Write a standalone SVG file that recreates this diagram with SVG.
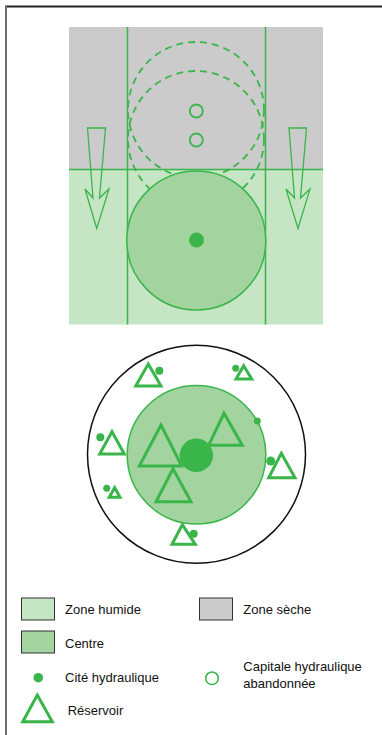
<svg xmlns="http://www.w3.org/2000/svg" width="382" height="735" viewBox="0 0 382 735">
<style>
.g{stroke:#3ab54a;fill:none}
.tri{stroke:#3ab54a;stroke-width:3;fill:none;stroke-linejoin:miter}
.dot{fill:#3ab54a}
.lbl{font-family:"Liberation Sans",Arial,sans-serif;font-size:13px;fill:#111}
.sw{stroke:#333;stroke-width:1}
</style>
<rect width="382" height="735" fill="#fff"/>
<g id="frame">
<line x1="5" y1="6.5" x2="382" y2="6.5" stroke="#222" stroke-width="2"/>
<line x1="6" y1="6" x2="6" y2="735" stroke="#707070" stroke-width="2"/>
</g>
<g id="top-panel">
<rect x="69" y="27" width="254" height="142.5" fill="#cbcbcb"/>
<rect x="69" y="169.5" width="254" height="155" fill="#c6e5c4"/>
<line class="g" x1="69" y1="169.5" x2="323" y2="169.5" stroke-width="1.5"/>
<line class="g" x1="127.5" y1="27" x2="127.5" y2="324.5" stroke-width="1.5"/>
<line class="g" x1="265.5" y1="27" x2="265.5" y2="324.5" stroke-width="1.5"/>
<circle class="g" cx="196" cy="110" r="68" stroke-width="1.8" stroke-dasharray="7 5"/>
<circle class="g" cx="196" cy="139" r="68" stroke-width="1.8" stroke-dasharray="7 5"/>
<circle class="g" cx="196.3" cy="111" r="6.5" stroke-width="1.8"/>
<circle class="g" cx="196.3" cy="140" r="6.5" stroke-width="1.8"/>
<circle cx="196.3" cy="240.5" r="69.5" fill="#a3d49f" stroke="#3ab54a" stroke-width="1.5"/>
<circle class="dot" cx="196.5" cy="240" r="7.5"/>
<polygon class="g" stroke-width="1.3" points="87.5,128 105.5,128 99.5,198 109,189 96.7,228.5 85,189 93,198"/>
<polygon class="g" stroke-width="1.3" points="289,128 306.5,128 300.5,198 310,189 298,228.5 286,189 294.5,198"/>
</g>
<g id="bottom-diagram">
<circle cx="196.5" cy="454.3" r="109" fill="#fff" stroke="#111" stroke-width="1.5"/>
<circle cx="196.5" cy="454.7" r="69.3" fill="#a3d49f" stroke="#3ab54a" stroke-width="1.5"/>
<circle class="dot" cx="196.3" cy="455.3" r="16.7"/>
<polygon class="tri" points="148.3,364 161,386 135.7,386"/>
<circle class="dot" cx="159.3" cy="370.7" r="4"/>
<polygon class="tri" points="243.7,365.7 251.7,379 236,379"/>
<circle class="dot" cx="235.7" cy="368.3" r="3.5"/>
<circle class="dot" cx="257.3" cy="421" r="3.5"/>
<polygon class="tri" points="161,425 181.7,466 139.3,466"/>
<polygon class="tri" points="224,413.3 242.3,445.3 208.7,445.3"/>
<polygon class="tri" points="173,468.7 191,501.7 156,501.7"/>
<polygon class="tri" points="112,431.7 124.3,454 99.7,454"/>
<circle class="dot" cx="100.3" cy="437.3" r="4"/>
<polygon class="tri" points="281.3,453.3 295,477.7 268.7,477.7"/>
<circle class="dot" cx="270.7" cy="461" r="4.5"/>
<polygon class="tri" points="114.7,487.7 120,497.3 109.3,497.3"/>
<circle class="dot" cx="106.7" cy="488.3" r="3.5"/>
<polygon class="tri" points="182.3,524.7 195.3,544.3 172,544.3"/>
<circle class="dot" cx="193.7" cy="533.7" r="4"/>
</g>
<g id="legend">
<g id="leg-humide"><rect class="sw" x="21.5" y="598" width="33" height="22" fill="#c6e5c4"/><text class="lbl" x="65" y="614">Zone humide</text></g>
<g id="leg-seche"><rect class="sw" x="199.5" y="598" width="33" height="22" fill="#cbcbcb"/><text class="lbl" x="243.3" y="614">Zone sèche</text></g>
<g id="leg-centre"><rect class="sw" x="21.5" y="631" width="33" height="22" fill="#a3d49f"/><text class="lbl" x="65" y="648.3">Centre</text></g>
<g id="leg-cite"><circle class="dot" cx="38.3" cy="677.7" r="4.8"/><text class="lbl" x="65" y="682">Cité hydraulique</text></g>
<g id="leg-capitale"><circle class="g" cx="212" cy="678.3" r="6.3" stroke-width="1.5"/><text class="lbl" x="243.3" y="670.7">Capitale hydraulique</text><text class="lbl" x="243.3" y="688.3">abandonnée</text></g>
<g id="leg-reservoir"><polygon class="tri" points="37.3,695 52.3,721.7 22.7,721.7"/><text class="lbl" x="67.7" y="715">Réservoir</text></g>
</g>
</svg>
